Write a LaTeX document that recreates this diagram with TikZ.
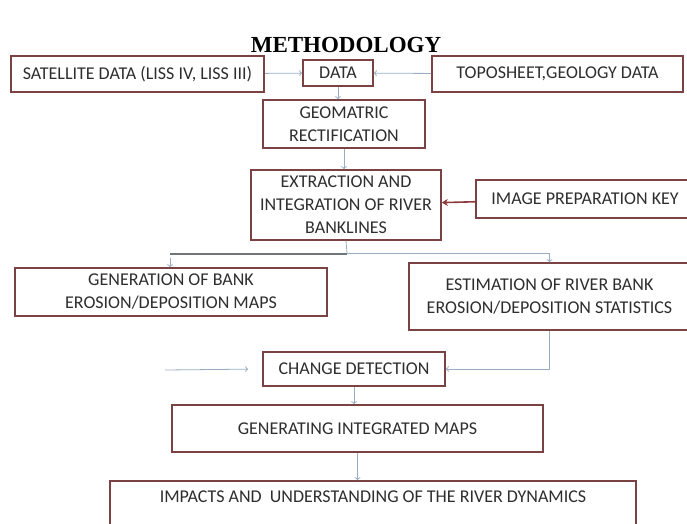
\documentclass[tikz,border=0pt]{standalone}
\usepackage{fontspec}
\setmainfont{Carlito}
\newfontfamily\titlefont{Liberation Serif}
\usetikzlibrary{arrows.meta}
\definecolor{boxred}{HTML}{7A4242}
\definecolor{linkblue}{HTML}{9AAEC3}
\definecolor{textgrey}{HTML}{2E2E2E}
\definecolor{keyred}{HTML}{8E3A3A}
\definecolor{splitgrey}{HTML}{6E7678}

\begin{document}
\begin{tikzpicture}[x=1pt,y=-1pt,
	box/.style={draw=boxred,line width=1.6pt,fill=white,inner sep=2pt,align=center,text=textgrey,font=\fontsize{18}{23}\selectfont},
	link/.style={draw=linkblue,line width=0.8pt,-{To[length=3pt,width=6pt]}}]
	
	\useasboundingbox (0,0) rectangle (687,523);
	\clip (0,0) rectangle (687,523);
	
	% title
	\node[text=black] (title) at (346,45) {\titlefont\bfseries\fontsize{23}{27}\selectfont METHODOLOGY};
	
	% input row
	\node[box,minimum width=253pt,minimum height=36pt] (sat) at (137.5,74) {SATELLITE DATA (LISS IV, LISS III)};
	\node[box,minimum width=70pt,minimum height=26pt] (data) at (338,73) {DATA};
	\node[box,minimum width=251pt,minimum height=36pt] (topo) at (557.5,74) {TOPOSHEET,GEOLOGY DATA};
	
	% processing
	\node[box,minimum width=162pt,minimum height=48pt] (geo) at (344,124) {GEOMATRIC\\RECTIFICATION};
	\node[box,minimum width=190pt,minimum height=70pt] (extr) at (346,205) {EXTRACTION AND\\INTEGRATION OF RIVER\\BANKLINES};
	\node[box,minimum width=218pt,minimum height=38pt] (key) at (585,199) {IMAGE PREPARATION KEY};
	\node[box,minimum width=312pt,minimum height=48pt] (gen) at (171,292) {GENERATION OF BANK\\EROSION/DEPOSITION MAPS};
	\node[box,minimum width=281pt,minimum height=67pt] (est) at (549.5,296.5) {ESTIMATION OF RIVER BANK\\EROSION/DEPOSITION STATISTICS};
	\node[box,minimum width=182pt,minimum height=34pt] (chg) at (354,369) {CHANGE DETECTION};
	\node[box,minimum width=371pt,minimum height=47pt] (maps) at (357.5,428.5) {GENERATING INTEGRATED MAPS};
	\node[box,minimum width=526pt,minimum height=50pt,text depth=18pt] (imp) at (373,506) {IMPACTS AND \ UNDERSTANDING OF THE RIVER DYNAMICS};
	
	% connectors
	\draw[link] (sat) -- (data);
	\draw[link] (topo) -- (data);
	\draw[link] (data.south) -- (data.south |- geo.north);
	\draw[link] (geo.south) -- (geo.south |- extr.north);
	\draw[keyred,line width=1.6pt,-{Stealth[length=6pt,width=7pt]}] (key) -- (extr);
	
	\coordinate (split) at (347,253);
	\coordinate (splitL) at (170,254);
	\draw[linkblue,line width=0.8pt] (extr.south) -- (split);
	\draw[link] (split) -| (est.north);
	\draw[splitgrey,line width=2pt] (split |- splitL) -- (splitL);
	\draw[link,shorten <=4pt] (splitL) -- (splitL |- gen.north);
	
	\draw[link] (est.south) |- (chg.east);
	\coordinate (feed) at (165,370);
	\draw[link,shorten >=14pt] (feed) -- (chg.west);
	\draw[link] (chg.south) -- (chg.south |- maps.north);
	\draw[link] (maps.south) -- (maps.south |- imp.north);

\end{tikzpicture}
\end{document}
